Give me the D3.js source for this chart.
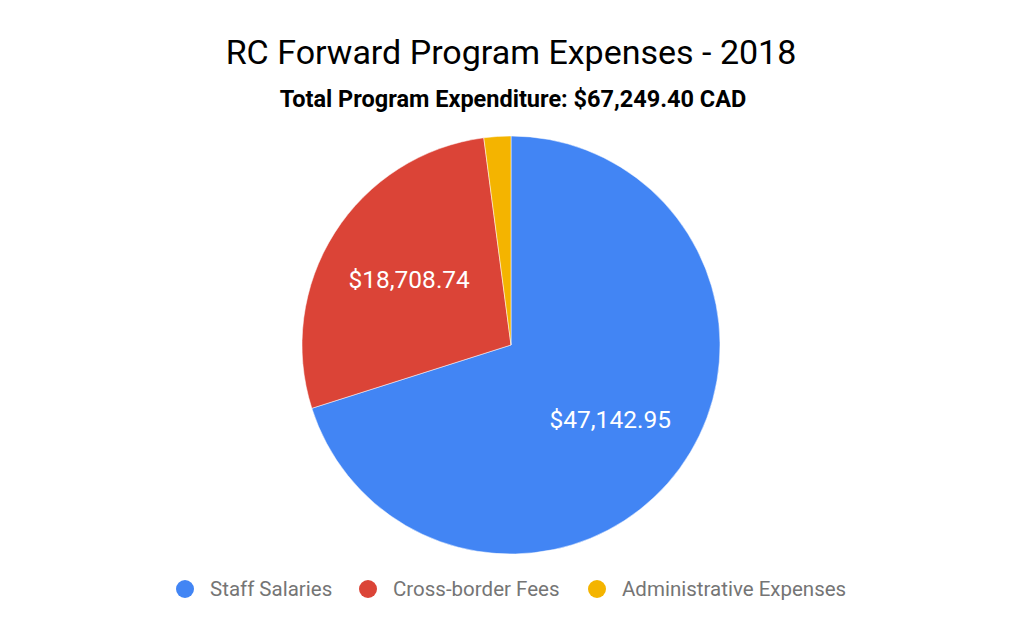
<!DOCTYPE html>
<html><head><meta charset="utf-8">
<script src="https://cdn.jsdelivr.net/npm/d3@7"></script>
<style>body{margin:0;background:#fff;}svg{display:block;}</style>
</head><body>
<script>
const categories = ["Staff Salaries", "Cross-border Fees", "Administrative Expenses"];
const values = [47142.95, 18708.74, 1397.71];
const labels = ["$47,142.95", "$18,708.74", ""];
const colors = ["#4285f4", "#db4437", "#f4b400"];
const title = "RC Forward Program Expenses - 2018";
const subtitle = "Total Program Expenditure: $67,249.40 CAD";

const W = 1024, H = 633;
const svg = d3.select("body").append("svg").attr("width", W).attr("height", H);
svg.append("rect").attr("width", W).attr("height", H).attr("fill", "#fff");

svg.append("text").attr("x", 511).attr("y", 64).attr("text-anchor", "middle")
  .attr("font-family", "Roboto").attr("font-size", 34).attr("fill", "#000").text(title);
svg.append("text").attr("x", 513).attr("y", 107).attr("text-anchor", "middle")
  .attr("font-family", "Roboto").attr("font-weight", "bold").attr("font-size", 23.5).attr("fill", "#000").text(subtitle);

const cx = 511, cy = 345, r = 209;
const data = categories.map((c, i) => ({c, v: values[i], l: labels[i], col: colors[i]}));
const pie = d3.pie().value(d => d.v).sort(null);
const arc = d3.arc().innerRadius(0).outerRadius(r);
const g = svg.append("g").attr("transform", `translate(${cx},${cy})`);
const arcs = pie(data);
g.selectAll("path").data(arcs).join("path").attr("d", arc).attr("fill", d => d.data.col)
  .attr("stroke", "#fff").attr("stroke-width", 0.5);
const labelArc = d3.arc().innerRadius(r * 0.6).outerRadius(r * 0.6);
g.selectAll("text").data(arcs).join("text")
  .attr("transform", d => { const c = labelArc.centroid(d); return `translate(${c[0] + (d.index === 1 ? 4 : -2)},${c[1] + (d.index === 1 ? 2 : 0)})`; })
  .attr("text-anchor", "middle").attr("dy", "0.35em")
  .attr("font-family", "Roboto").attr("font-size", 24.5).attr("fill", "#fff")
  .text(d => d.data.l);

const legendX = [185, 368, 597];
const lg = svg.append("g");
data.forEach((d, i) => {
  lg.append("circle").attr("cx", legendX[i]).attr("cy", 589).attr("r", 9).attr("fill", d.col);
  lg.append("text").attr("x", legendX[i] + 25).attr("y", 589).attr("dy", "0.35em")
    .attr("font-family", "Roboto").attr("font-size", 20.5).attr("fill", "#757575").text(d.c);
});
</script>
</body></html>
